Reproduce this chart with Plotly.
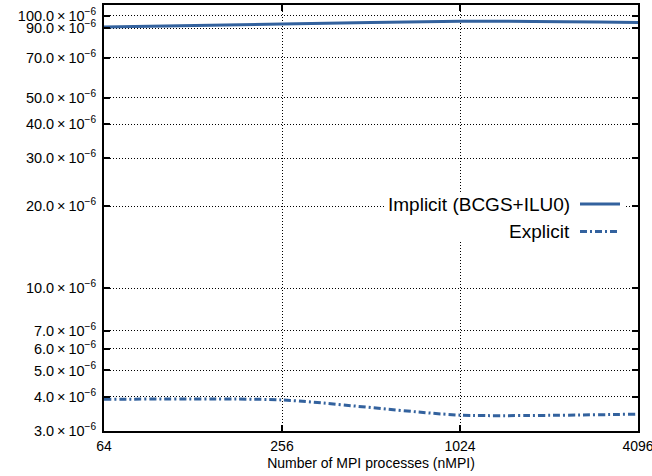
import plotly.graph_objects as go

nmpi = [64, 256, 1024, 4096]
implicit_vals = [90.8e-6, 93.1e-6, 95.4e-6, 94.4e-6]
explicit_vals = [3.92e-6, 3.90e-6, 3.43e-6, 3.46e-6]
series_names = ["Implicit (BCGS+ILU0)", "Explicit"]
x_tick_vals = [64, 256, 1024, 4096]
y_tick_mant = [3.0, 4.0, 5.0, 6.0, 7.0, 10.0, 20.0, 30.0, 40.0, 50.0, 70.0, 90.0, 100.0]
y_tick_vals = [m * 1e-6 for m in y_tick_mant]
y_tick_text = [f"{m:.1f}\u2009×\u200910<sup>−6</sup>" for m in y_tick_mant]
x_title = "Number of MPI processes (nMPI)"

color = "#33629e"
FONT = "Liberation Sans, Arial, Helvetica, sans-serif"
DASHDOT = "7px,3px,2px,3px"

fig = go.Figure()
fig.add_trace(go.Scatter(x=nmpi, y=implicit_vals, mode="lines", name=series_names[0],
                         line=dict(color=color, width=3, shape="spline", smoothing=0.6),
                         showlegend=False))
fig.add_trace(go.Scatter(x=nmpi, y=explicit_vals, mode="lines", name=series_names[1],
                         line=dict(color=color, width=3, shape="spline", smoothing=0.6, dash=DASHDOT),
                         showlegend=False))

L, R, T, B = 104, 14, 5, 45
W, H = 652, 476
pw, ph = W - L - R, H - T - B

def px(xp):
    return (xp - L) / pw

def py(yp):
    return (H - B - yp) / ph

# legend box (gnuplot-style: text left, sample right)
fig.add_shape(type="rect", xref="paper", yref="paper", x0=px(384), x1=px(624), y0=py(242), y1=py(192),
              fillcolor="white", line=dict(width=0), layer="above")
fig.add_shape(type="line", xref="paper", yref="paper", x0=px(580), x1=px(620), y0=py(204), y1=py(204),
              line=dict(color=color, width=3), layer="above")
fig.add_shape(type="line", xref="paper", yref="paper", x0=px(580), x1=px(620), y0=py(231.5), y1=py(231.5),
              line=dict(color=color, width=3, dash=DASHDOT), layer="above")
fig.add_annotation(xref="paper", yref="paper", x=px(572), y=py(204), text=series_names[0],
                   showarrow=False, xanchor="right", yanchor="middle",
                   font=dict(family=FONT, size=19, color="black"))
fig.add_annotation(xref="paper", yref="paper", x=px(572), y=py(231.5), text=series_names[1],
                   showarrow=False, xanchor="right", yanchor="middle",
                   font=dict(family=FONT, size=19, color="black"))

fig.update_layout(
    width=W, height=H,
    margin=dict(l=L, r=R, t=T, b=B, autoexpand=False),
    paper_bgcolor="white", plot_bgcolor="white",
    font=dict(family=FONT, size=14, color="black"),
    hovermode=False,
)
fig.update_xaxes(
    type="log", range=[1.8061, 3.6124], automargin=False,
    tickvals=x_tick_vals, ticktext=[str(v) for v in x_tick_vals],
    ticks="inside", ticklen=6, tickwidth=1.5, tickcolor="black",
    showline=True, linecolor="black", linewidth=2, mirror="allticks",
    showgrid=True, gridcolor="black", gridwidth=1, griddash="1px,2px",
    title=dict(text=x_title, font=dict(size=14), standoff=5),
    tickfont=dict(size=14), ticklabelstandoff=1,
    ticklabeloverflow="allow",
)
fig.update_yaxes(
    type="log", range=[-5.5229, -3.961], automargin=False,
    tickvals=y_tick_vals, ticktext=y_tick_text,
    ticks="inside", ticklen=6, tickwidth=1.5, tickcolor="black",
    showline=True, linecolor="black", linewidth=2, mirror="allticks",
    showgrid=True, gridcolor="black", gridwidth=1, griddash="1px,2px",
    tickfont=dict(size=14.5), ticklabelstandoff=3,
)

fig.write_html("out.html")
